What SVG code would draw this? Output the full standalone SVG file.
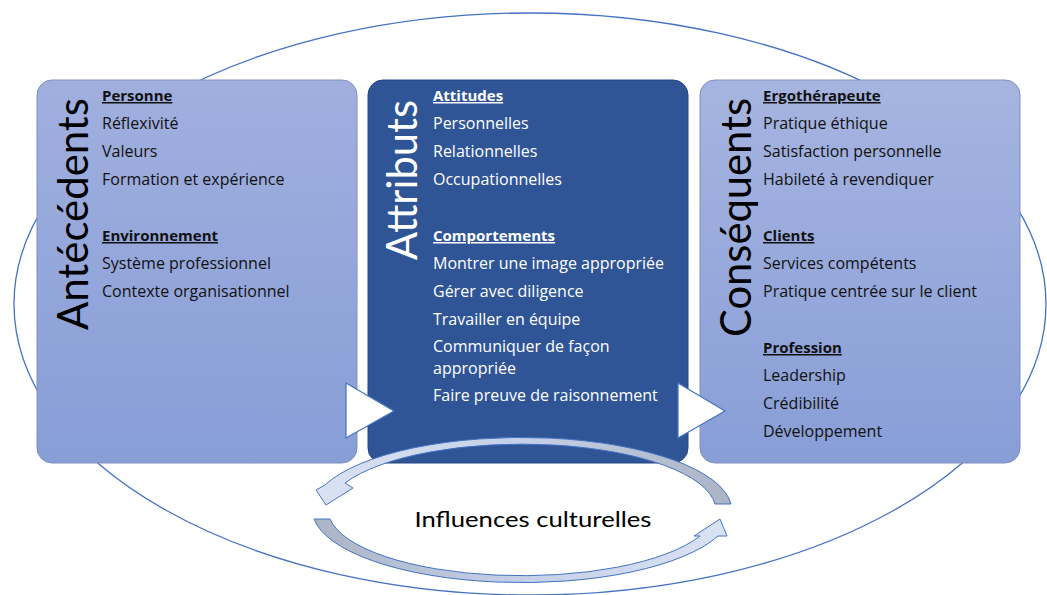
<svg xmlns="http://www.w3.org/2000/svg" width="1047" height="595" viewBox="0 0 1047 595">
<defs>
<style>
.t{font-family:"Open Sans",Lato,"Liberation Sans",sans-serif;font-size:16px;fill:#111}
.w{fill:#fff}
.h{font-size:15px;font-weight:bold;text-decoration:underline}
.big{font-family:Lato,"Open Sans","Liberation Sans",sans-serif;font-size:43px}
.box{stroke:#7E90BE;stroke-width:1}
.tri{fill:#fff;stroke:#4472C4;stroke-width:1.2;stroke-linejoin:miter}
.cyc{stroke:#4472C4;stroke-width:1;stroke-linejoin:round}
</style>
<linearGradient id="gl" x1="0" y1="0" x2="0" y2="1">
<stop offset="0" stop-color="#A0AFDE"/>
<stop offset="1" stop-color="#889ED7"/>
</linearGradient>
<linearGradient id="gr" x1="0" y1="0" x2="0" y2="1">
<stop offset="0" stop-color="#A6B4E0"/>
<stop offset="1" stop-color="#889ED7"/>
</linearGradient>
<linearGradient id="gu" gradientUnits="userSpaceOnUse" x1="733" y1="0" x2="316" y2="0">
<stop offset="0" stop-color="#ABB4C4"/>
<stop offset="0.5" stop-color="#C4D0E8"/>
<stop offset="1" stop-color="#DAE3F3"/>
</linearGradient>
<linearGradient id="gd" gradientUnits="userSpaceOnUse" x1="312" y1="0" x2="728" y2="0">
<stop offset="0" stop-color="#ABB4C4"/>
<stop offset="0.5" stop-color="#C4D0E8"/>
<stop offset="1" stop-color="#DAE3F3"/>
</linearGradient>
</defs>
<rect width="1047" height="595" fill="#fff"/>
<g id="frame">
<ellipse cx="530" cy="304" rx="516" ry="291" fill="none" stroke="#4472C4" stroke-width="1.3"/>
</g>
<g id="antecedents">
<rect class="box" x="37" y="80" width="320" height="383" rx="15" fill="url(#gl)"/>
<text class="big" transform="translate(88,330) rotate(-90)" textLength="232" lengthAdjust="spacingAndGlyphs" fill="#000">Antécédents</text>
<text class="t h" x="102" y="101">Personne</text>
<text class="t" x="102" y="129">Réflexivité</text>
<text class="t" x="102" y="157">Valeurs</text>
<text class="t" x="102" y="185">Formation et expérience</text>
<text class="t h" x="102" y="241">Environnement</text>
<text class="t" x="102" y="269">Système professionnel</text>
<text class="t" x="102" y="297">Contexte organisationnel</text>
</g>
<g id="attributs">
<rect x="368" y="80" width="320" height="383" rx="15" fill="#2F5597" stroke="#25467F" stroke-width="1"/>
<text class="big" transform="translate(417,260) rotate(-90)" textLength="160" lengthAdjust="spacingAndGlyphs" fill="#fff">Attributs</text>
<text class="t w h" x="433" y="101">Attitudes</text>
<text class="t w" x="433" y="129">Personnelles</text>
<text class="t w" x="433" y="157">Relationnelles</text>
<text class="t w" x="433" y="185">Occupationnelles</text>
<text class="t w h" x="433" y="241">Comportements</text>
<text class="t w" x="433" y="269">Montrer une image appropriée</text>
<text class="t w" x="433" y="297">Gérer avec diligence</text>
<text class="t w" x="433" y="325">Travailler en équipe</text>
<text class="t w" x="433" y="352">Communiquer de façon</text>
<text class="t w" x="433" y="374">appropriée</text>
<text class="t w" x="433" y="401">Faire preuve de raisonnement</text>
</g>
<g id="consequents">
<rect class="box" x="700" y="80" width="320" height="383" rx="15" fill="url(#gr)"/>
<text class="big" transform="translate(751,337) rotate(-90)" textLength="239" lengthAdjust="spacingAndGlyphs" fill="#000">Conséquents</text>
<text class="t h" x="763" y="101">Ergothérapeute</text>
<text class="t" x="763" y="129">Pratique éthique</text>
<text class="t" x="763" y="157">Satisfaction personnelle</text>
<text class="t" x="763" y="185">Habileté à revendiquer</text>
<text class="t h" x="763" y="241">Clients</text>
<text class="t" x="763" y="269">Services compétents</text>
<text class="t" x="763" y="297">Pratique centrée sur le client</text>
<text class="t h" x="763" y="353">Profession</text>
<text class="t" x="763" y="381">Leadership</text>
<text class="t" x="763" y="409">Crédibilité</text>
<text class="t" x="763" y="437">Développement</text>
</g>
<g id="connectors">
<polygon class="tri" points="346,383 394,411 346,438"/>
<polygon class="tri" points="678,383 725,411 678,438"/>
<path class="cyc" fill="url(#gu)" d="M731,504 A210 73 0 0 0 325,485 L316,490 L326,505 L353,488 L345,483 A194 66 0 0 1 715,504 Z"/>
<path class="cyc" fill="url(#gd)" d="M314,519 A210 73 0 0 0 718,536 L727,536 L720,519 L694,536 L700,536 A194 66 0 0 1 330,519 Z"/>
</g>
<g id="influences">
<text x="533" y="527" text-anchor="middle" font-family="Lato,'Open Sans','Liberation Sans',sans-serif" font-size="22" fill="#000" textLength="237" lengthAdjust="spacingAndGlyphs">Influences culturelles</text>
</g>
</svg>
